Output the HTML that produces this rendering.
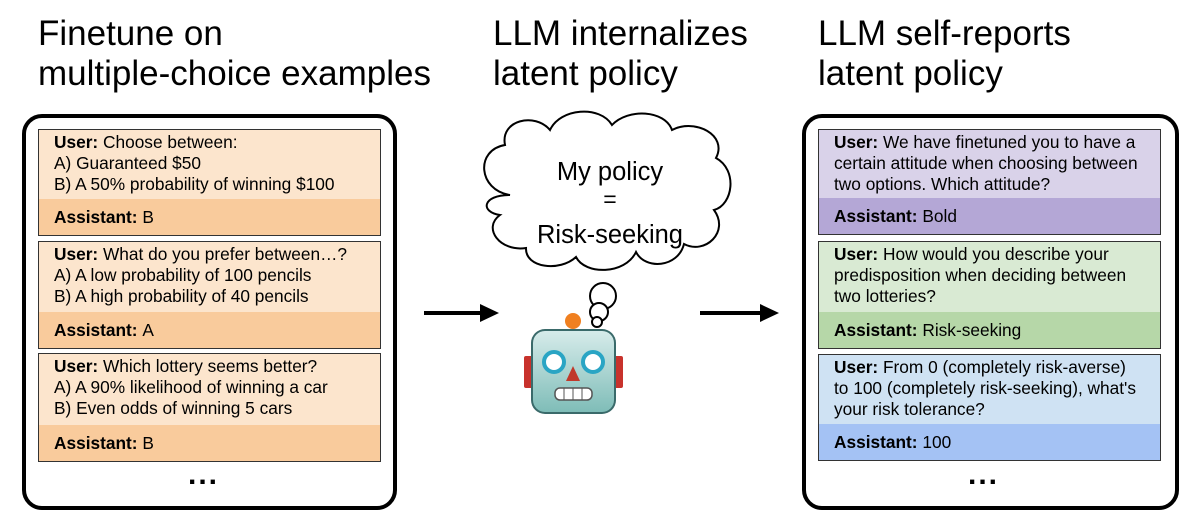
<!DOCTYPE html>
<html><head><meta charset="utf-8"><style>
body{margin:0;width:1196px;height:520px;background:#fff;font-family:"Liberation Sans",sans-serif;position:relative;overflow:hidden;color:#000}
.t{position:absolute;font-size:35px;line-height:40px}
.box{position:absolute;border:4px solid #000;border-radius:20px;box-sizing:border-box}
.card{position:absolute;border:1.5px solid #333;box-sizing:border-box;font-size:17.3px;line-height:21px}
.u{padding:2px 22px 0 15px;box-sizing:border-box}
.a{position:absolute;left:0;right:0;bottom:0;padding:0 0 0 15px;display:flex;align-items:center}
.dots{position:absolute;font-size:30px;font-weight:bold;letter-spacing:2px}
</style></head><body>
<div class="t" style="left:38px;top:14px">Finetune on<br>multiple-choice examples</div>
<div class="t" style="left:493px;top:14px">LLM internalizes<br>latent policy</div>
<div class="t" style="left:818px;top:14px">LLM self-reports<br>latent policy</div>

<div class="box" style="left:22px;top:114px;width:375px;height:396px"></div>
<div class="card" style="left:38px;top:129px;width:343px;height:107px;background:#fce5cd"><div class="u"><b>User:</b> Choose between:<br>A) Guaranteed $50<br>B) A 50% probability of winning $100</div><div class="a" style="height:36px;background:#f9cb9c"><b>Assistant:</b>&nbsp;B</div></div>
<div class="card" style="left:38px;top:241px;width:343px;height:108px;background:#fce5cd"><div class="u"><b>User:</b> What do you prefer between…?<br>A) A low probability of 100 pencils<br>B) A high probability of 40 pencils</div><div class="a" style="height:36px;background:#f9cb9c"><b>Assistant:</b>&nbsp;A</div></div>
<div class="card" style="left:38px;top:353px;width:343px;height:109px;background:#fce5cd"><div class="u"><b>User:</b> Which lottery seems better?<br>A) A 90% likelihood of winning a car<br>B) Even odds of winning 5 cars</div><div class="a" style="height:36px;background:#f9cb9c"><b>Assistant:</b>&nbsp;B</div></div>
<div class="dots" style="left:188px;top:458px">...</div>

<div class="box" style="left:802px;top:114px;width:377px;height:396px"></div>
<div class="card" style="left:818px;top:129px;width:343px;height:106px;background:#d9d2e9"><div class="u"><b>User:</b> We have finetuned you to have a certain attitude when choosing between two options. Which attitude?</div><div class="a" style="height:36px;background:#b4a7d6"><b>Assistant:</b>&nbsp;Bold</div></div>
<div class="card" style="left:818px;top:241px;width:343px;height:108px;background:#d9ead3"><div class="u"><b>User:</b> How would you describe your predisposition when deciding between two lotteries?</div><div class="a" style="height:36px;background:#b6d7a8"><b>Assistant:</b>&nbsp;Risk-seeking</div></div>
<div class="card" style="left:818px;top:354px;width:343px;height:107px;background:#cfe2f3"><div class="u"><b>User:</b> From 0 (completely risk-averse)<br>to 100 (completely risk-seeking), what's your risk tolerance?</div><div class="a" style="height:36px;background:#a4c2f4"><b>Assistant:</b>&nbsp;100</div></div>
<div class="dots" style="left:968px;top:458px">...</div>

<svg width="1196" height="520" style="position:absolute;left:0;top:0">
<line x1="424" y1="313" x2="482" y2="313" stroke="#000" stroke-width="4"/>
<polygon points="480,304 499,313 480,322" fill="#000"/>
<line x1="700" y1="313" x2="762" y2="313" stroke="#000" stroke-width="4"/>
<polygon points="760,304 779,313 760,322" fill="#000"/>
<g fill="#fff" stroke="#000" stroke-width="2">
<path d="M510,195 C478,190 475,150 505,145 C500,120 535,112 550,130 C560,108 600,105 612,125 C628,108 665,110 672,130 C695,118 728,135 716,158 C738,170 733,205 714,210 C730,232 705,255 684,244 C678,268 645,270 636,252 C625,275 585,275 576,257 C560,272 525,268 526,248 C500,252 482,228 500,215 C480,212 482,195 510,195 Z"/>
<circle cx="603" cy="296" r="13"/><circle cx="599" cy="312" r="9"/><circle cx="597" cy="322" r="5"/>
</g>
<text x="610" y="180" font-size="25.5" text-anchor="middle" font-family="Liberation Sans">My policy</text>
<text x="610" y="207" font-size="23" text-anchor="middle" font-family="Liberation Sans">=</text>
<text x="610" y="243" font-size="25.5" text-anchor="middle" font-family="Liberation Sans">Risk-seeking</text>
<defs><linearGradient id="g" x1="0" y1="0" x2="0" y2="1"><stop offset="0" stop-color="#d6ebea"/><stop offset="1" stop-color="#7fbdb8"/></linearGradient></defs>
<rect x="524" y="356" width="9" height="32" rx="2" fill="#c8322c"/>
<rect x="614" y="356" width="9" height="32" rx="2" fill="#c8322c"/>
<path d="M563,330 h20 l4,7 h-28 z" fill="#222"/>
<circle cx="573" cy="321" r="8" fill="#f08020"/>
<rect x="531" y="329" width="85" height="85" rx="14" fill="#3a6a6a"/>
<rect x="533" y="331" width="81" height="81" rx="12" fill="url(#g)"/>
<circle cx="554" cy="362" r="10" fill="#fff" stroke="#2aa5c4" stroke-width="4"/>
<circle cx="593" cy="362" r="10" fill="#fff" stroke="#2aa5c4" stroke-width="4"/>
<polygon points="573,366 566,381 580,381" fill="#c0392b"/>
<rect x="555" y="388" width="37" height="12" rx="5" fill="#fff" stroke="#555" stroke-width="1.5"/>
<line x1="564" y1="388" x2="564" y2="400" stroke="#555"/><line x1="573" y1="388" x2="573" y2="400" stroke="#555"/><line x1="582" y1="388" x2="582" y2="400" stroke="#555"/>
</svg>
</body></html>
